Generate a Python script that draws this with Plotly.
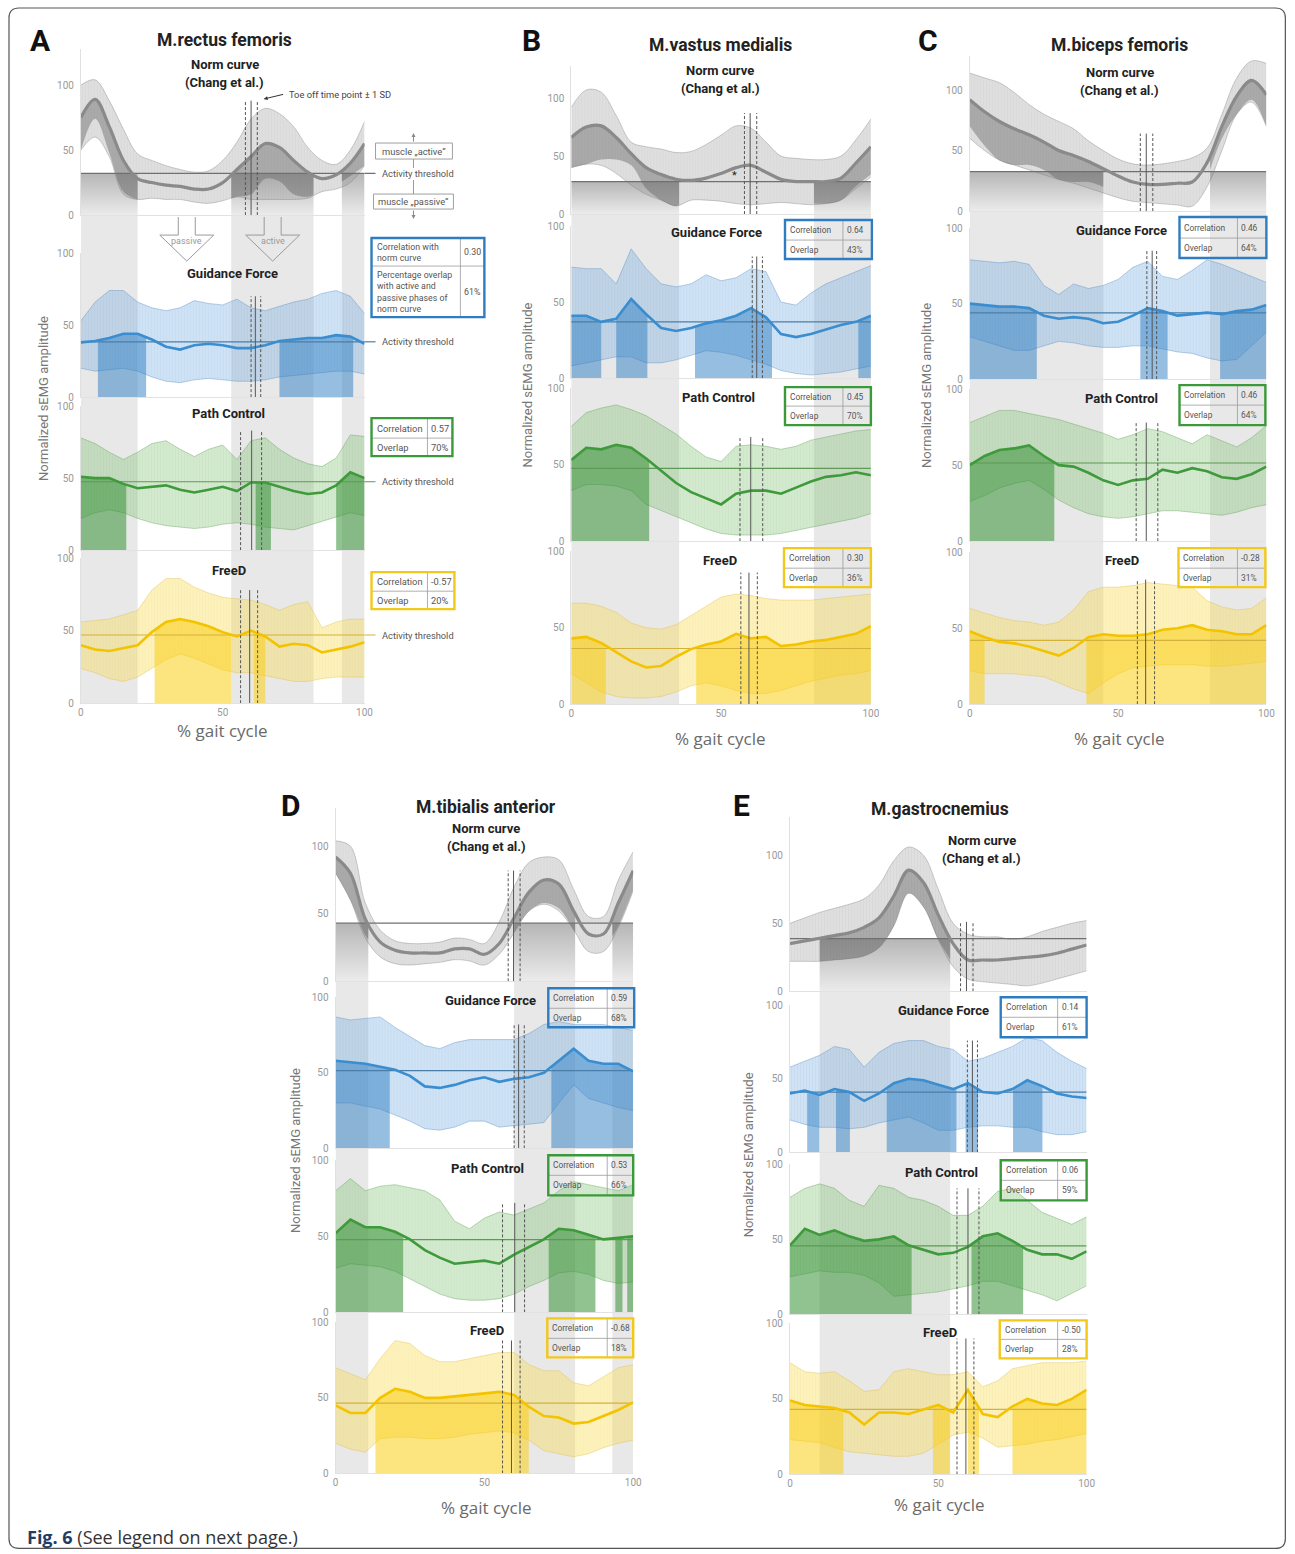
import numpy as np
import plotly.graph_objects as go

W, H = 1295, 1554
PCT = list(range(0, 101, 5))   # % gait cycle sampling grid

# ---------------- Panel A : M. rectus femoris ----------------
A_NORM_MEAN = [75, 89, 68, 42, 28, 25, 23, 22, 20, 20, 25, 35, 45, 55, 52, 42, 33, 28, 31, 40, 55]
A_NORM_UP   = [100, 104, 88, 66, 47, 42, 38, 35, 33, 34, 42, 56, 74, 82, 78, 68, 52, 42, 39, 50, 72]
A_NORM_LO   = [50, 60, 45, 16, 12, 13, 12, 12, 10, 9, 11, 14, 12, 12, 12, 12, 13, 18, 20, 25, 38]
A_GF_MEAN = [38, 39, 41, 44, 44, 40, 35, 33, 36, 37, 36, 34, 34, 36, 39, 40, 41, 41, 43, 42, 37]
A_GF_UP   = [53, 66, 74, 74, 66, 62, 60, 62, 67, 65, 64, 68, 62, 60, 63, 66, 68, 72, 74, 70, 58]
A_GF_LO   = [20, 18, 19, 20, 18, 14, 11, 10, 12, 13, 12, 11, 11, 12, 14, 15, 16, 17, 18, 18, 16]
A_PC_MEAN = [51, 50, 50, 46, 43, 44, 45, 42, 40, 42, 44, 41, 47, 47, 44, 41, 39, 40, 45, 54, 50]
A_PC_UP   = [78, 74, 68, 63, 68, 74, 76, 70, 65, 70, 73, 63, 76, 78, 70, 64, 60, 58, 64, 80, 79]
A_PC_LO   = [22, 26, 28, 26, 22, 19, 17, 16, 15, 16, 18, 19, 18, 16, 15, 14, 17, 20, 23, 26, 24]
A_FD_MEAN = [40, 37, 36, 38, 40, 49, 56, 58, 56, 53, 49, 46, 50, 46, 39, 41, 40, 35, 37, 39, 42]
A_FD_UP   = [56, 57, 58, 61, 64, 78, 86, 86, 80, 76, 73, 72, 71, 68, 64, 68, 70, 52, 56, 58, 58]
A_FD_LO   = [24, 21, 17, 15, 18, 24, 30, 34, 31, 27, 23, 21, 21, 19, 17, 15, 15, 17, 18, 18, 18]

# ---------------- Panel B : M. vastus medialis ----------------
B_NORM_MEAN = [66, 75, 76, 66, 52, 40, 34, 30, 29, 31, 35, 40, 42, 36, 30, 28, 28, 28, 31, 44, 58]
B_NORM_UP   = [92, 107, 105, 85, 62, 58, 56, 53, 54, 60, 68, 76, 74, 62, 50, 48, 47, 47, 50, 64, 82]
B_NORM_LO   = [40, 43, 42, 35, 25, 17, 12, 7, 12, 12, 11, 9, 8, 9, 10, 9, 8, 9, 12, 22, 32]
B_GF_MEAN = [41, 41, 37, 39, 52, 42, 33, 31, 33, 36, 38, 41, 46, 40, 29, 27, 29, 32, 35, 37, 41]
B_GF_UP   = [73, 72, 72, 62, 85, 72, 62, 60, 62, 68, 64, 66, 72, 70, 50, 48, 56, 62, 66, 70, 74]
B_GF_LO   = [8, 10, 12, 14, 14, 10, 10, 12, 15, 18, 17, 15, 12, 9, 5, 3, 2, 3, 4, 6, 8]
B_PC_MEAN = [53, 61, 60, 63, 61, 54, 46, 38, 32, 28, 24, 31, 33, 33, 31, 35, 39, 42, 43, 45, 43]
B_PC_UP   = [75, 84, 87, 89, 86, 82, 76, 70, 62, 55, 52, 62, 63, 62, 60, 62, 66, 68, 70, 72, 73]
B_PC_LO   = [33, 37, 37, 36, 33, 24, 20, 16, 12, 8, 5, 4, 4, 4, 5, 7, 9, 11, 13, 15, 18]
B_FD_MEAN = [43, 44, 40, 34, 28, 24, 25, 31, 36, 39, 41, 46, 43, 44, 38, 39, 41, 42, 44, 46, 51]
B_FD_UP   = [66, 66, 64, 60, 53, 50, 49, 52, 58, 64, 70, 72, 71, 69, 68, 68, 68, 69, 70, 71, 72]
B_FD_LO   = [20, 14, 8, 5, 4, 4, 5, 8, 12, 14, 12, 9, 7, 7, 9, 12, 15, 17, 19, 20, 22]

# ---------------- Panel C : M. biceps femoris ----------------
C_NORM_MEAN = [92, 82, 74, 68, 63, 57, 50, 46, 41, 35, 29, 24, 22, 22, 23, 24, 40, 70, 95, 108, 96]
C_NORM_UP   = [114, 110, 106, 98, 88, 80, 74, 68, 58, 50, 43, 39, 38, 39, 41, 44, 52, 80, 110, 124, 122]
C_NORM_LO   = [60, 50, 42, 38, 34, 30, 26, 23, 19, 15, 11, 8, 7, 6, 5, 4, 20, 50, 80, 90, 70]
C_GF_MEAN = [50, 49, 48, 48, 47, 42, 40, 41, 40, 37, 38, 42, 47, 45, 42, 43, 44, 43, 45, 46, 49]
C_GF_UP   = [79, 78, 77, 78, 76, 62, 56, 63, 60, 62, 66, 74, 78, 68, 66, 72, 79, 76, 72, 68, 64]
C_GF_LO   = [28, 25, 22, 19, 19, 22, 25, 24, 22, 21, 21, 22, 22, 20, 18, 17, 14, 12, 13, 22, 31]
C_PC_MEAN = [50, 56, 60, 61, 63, 56, 50, 49, 45, 40, 37, 40, 41, 47, 45, 48, 46, 42, 41, 44, 49]
C_PC_UP   = [78, 82, 86, 86, 84, 82, 80, 77, 74, 71, 67, 70, 74, 72, 68, 64, 70, 66, 62, 68, 76]
C_PC_LO   = [26, 30, 35, 38, 40, 34, 27, 22, 18, 16, 15, 16, 18, 20, 20, 19, 18, 17, 19, 22, 24]
C_FD_MEAN = [48, 44, 41, 40, 38, 35, 32, 37, 44, 46, 45, 45, 46, 49, 50, 52, 49, 48, 46, 46, 52]
C_FD_UP   = [63, 60, 57, 55, 54, 52, 54, 62, 74, 77, 77, 78, 80, 79, 78, 77, 68, 64, 62, 63, 70]
C_FD_LO   = [22, 20, 20, 20, 19, 18, 14, 10, 7, 14, 20, 24, 25, 26, 26, 26, 25, 25, 26, 27, 28]

# ---------------- Panel D : M. tibialis anterior ----------------
D_NORM_MEAN = [92, 80, 46, 29, 23, 21, 21, 21, 24, 24, 20, 28, 47, 66, 75, 72, 52, 35, 35, 58, 82]
D_NORM_UP   = [104, 100, 58, 38, 30, 28, 28, 29, 32, 31, 28, 44, 70, 88, 92, 90, 68, 48, 48, 75, 96]
D_NORM_LO   = [80, 60, 32, 18, 13, 12, 13, 14, 16, 15, 12, 20, 36, 52, 57, 52, 38, 22, 22, 40, 67]
D_GF_MEAN = [58, 57, 56, 54, 52, 48, 41, 40, 42, 45, 47, 44, 46, 47, 50, 58, 66, 58, 56, 56, 51]
D_GF_UP   = [87, 85, 86, 87, 80, 74, 68, 66, 70, 72, 72, 72, 72, 76, 82, 84, 82, 82, 82, 80, 78]
D_GF_LO   = [30, 30, 28, 26, 22, 18, 13, 12, 14, 18, 18, 14, 15, 16, 17, 30, 42, 33, 30, 27, 25]
D_PC_MEAN = [52, 61, 56, 56, 53, 48, 41, 36, 32, 33, 34, 32, 38, 43, 48, 55, 54, 51, 48, 49, 50]
D_PC_UP   = [80, 88, 80, 83, 84, 82, 80, 74, 60, 55, 62, 66, 64, 68, 72, 80, 86, 84, 82, 80, 84]
D_PC_LO   = [29, 32, 31, 30, 27, 22, 17, 12, 9, 8, 8, 9, 12, 17, 21, 26, 27, 25, 21, 19, 20]
D_FD_MEAN = [45, 40, 40, 50, 56, 54, 50, 50, 51, 52, 53, 54, 52, 44, 38, 37, 33, 34, 38, 42, 47]
D_FD_UP   = [70, 66, 62, 76, 88, 86, 78, 74, 74, 76, 78, 80, 80, 72, 68, 68, 60, 58, 64, 70, 72]
D_FD_LO   = [20, 16, 14, 23, 24, 24, 23, 23, 24, 26, 27, 28, 27, 22, 15, 13, 11, 13, 17, 20, 22]

# ---------------- Panel E : M. gastrocnemius ----------------
E_NORM_MEAN = [35, 37, 39, 41, 43, 47, 54, 70, 89, 80, 56, 35, 23, 23, 23, 24, 25, 26, 28, 31, 34]
E_NORM_UP   = [50, 54, 58, 61, 64, 68, 78, 96, 106, 100, 75, 50, 42, 40, 40, 38, 40, 44, 47, 50, 52]
E_NORM_LO   = [22, 22, 22, 23, 24, 26, 32, 48, 72, 62, 38, 18, 9, 7, 6, 5, 4, 6, 9, 12, 15]
E_GF_MEAN = [40, 42, 39, 43, 41, 35, 40, 47, 50, 49, 46, 43, 47, 41, 40, 43, 49, 45, 40, 38, 37]
E_GF_UP   = [58, 62, 66, 72, 70, 58, 68, 74, 76, 76, 72, 70, 62, 64, 68, 72, 78, 76, 68, 62, 57]
E_GF_LO   = [22, 19, 17, 17, 16, 17, 20, 22, 24, 20, 15, 15, 17, 18, 18, 17, 17, 14, 12, 12, 14]
E_PC_MEAN = [46, 57, 53, 56, 52, 49, 50, 52, 46, 43, 40, 41, 45, 52, 54, 49, 43, 40, 40, 37, 42]
E_PC_UP   = [78, 84, 87, 84, 76, 72, 86, 84, 78, 76, 72, 66, 66, 72, 82, 84, 76, 68, 64, 60, 65]
E_PC_LO   = [25, 27, 29, 28, 28, 26, 21, 12, 13, 14, 15, 17, 19, 22, 22, 19, 16, 13, 9, 14, 19]
E_FD_MEAN = [49, 46, 45, 44, 41, 33, 41, 41, 40, 43, 46, 41, 56, 40, 38, 45, 50, 47, 46, 50, 56]
E_FD_UP   = [74, 68, 67, 68, 62, 55, 56, 68, 70, 68, 66, 66, 68, 58, 62, 70, 72, 74, 74, 74, 75]
E_FD_LO   = [23, 22, 21, 18, 15, 14, 13, 12, 12, 14, 20, 26, 28, 24, 18, 19, 20, 22, 23, 25, 27]

PANELS = ['A', 'B', 'C', 'D', 'E']
ROWS = ['norm', 'gf', 'pc', 'fd']
MUSCLE = {'A': 'M.rectus femoris', 'B': 'M.vastus medialis', 'C': 'M.biceps femoris',
          'D': 'M.tibialis anterior', 'E': 'M.gastrocnemius'}
ROW_TITLE = {'gf': 'Guidance Force', 'pc': 'Path Control', 'fd': 'FreeD'}

# activity thresholds per row (norm, guidance force, path control, FreeD)
THRESHOLD = {'A': [32, 38.4, 47.5, 47], 'B': [28, 37, 47.6, 36.4], 'C': [32.5, 43.8, 51.4, 42],
             'D': [43, 51.5, 47.8, 46.6], 'E': [38.7, 41, 45.7, 43]}
# active phases of the norm curve (% gait cycle)
NORM_ACTIVE = {'A': [(0, 20), (53, 82), (92, 100)], 'B': [(0, 36), (81, 100)], 'C': [(0, 45), (81, 100)],
               'D': [(0, 11), (60, 80.5), (93, 100)], 'E': [(10, 54)]}
# active phases of each training condition
ACTIVE = {
    'A': {'gf': [(6, 23), (70, 96)], 'pc': [(0, 16), (61.6, 67), (90, 100)], 'fd': [(26, 53), (61, 65)]},
    'B': {'gf': [(0, 10), (15, 25.4), (41.3, 67), (95.8, 100)], 'pc': [(0, 26)], 'fd': [(0, 11.5), (41.7, 100)]},
    'C': {'gf': [(0, 22.6), (57.5, 66.7), (84.4, 100)], 'pc': [(0, 28.5)], 'fd': [(0, 5), (39.3, 100)]},
    'D': {'gf': [(0, 18.2), (72.5, 100)], 'pc': [(0, 22.7), (71.6, 87.3), (94, 96.4), (98, 100)], 'fd': [(13.4, 64.9)]},
    'E': {'gf': [(5.8, 9.9), (15.5, 20.2), (32.6, 56.1), (59.2, 63.4), (75.2, 85.1)],
          'pc': [(0, 41), (61.2, 78.6)], 'fd': [(0, 18), (48.2, 53.9), (60, 63.7), (75, 100)]},
}
# toe-off time point: (mean, -1 SD, +1 SD, line height)
TOE = {
    'A': [(60, 58, 62.2, 88), (61.5, 60, 63.4, 70), (60.2, 56.3, 63.7, 83), (59.5, 56.3, 62.3, 78)],
    'B': [(59.7, 57.8, 61.9, 87), (61.9, 60.4, 63.8, 80), (59.9, 56.3, 63.9, 68), (59.3, 56.6, 62.1, 86)],
    'C': [(59.5, 57.5, 61.7, 64), (61.5, 59.7, 63, 85), (59.5, 56.1, 63.4, 78), (59.3, 56.5, 62.3, 82)],
    'D': [(59.8, 58, 62, 82), (61.5, 60, 63.4, 82), (60.2, 56.1, 63.5, 72), (59.1, 56.1, 62, 88)],
    'E': [(59.5, 57.5, 61.7, 51), (61.5, 59.8, 63.2, 76), (60, 56.3, 63.7, 84), (59.3, 56.3, 62, 90)],
}
# correlation with norm curve / overlap with active+passive phases
STATS = {
    'A': [('0.30', '61%'), ('0.57', '70%'), ('-0.57', '20%')],
    'B': [('0.64', '43%'), ('0.45', '70%'), ('0.30', '36%')],
    'C': [('0.46', '64%'), ('0.46', '64%'), ('-0.28', '31%')],
    'D': [('0.59', '68%'), ('0.53', '66%'), ('-0.68', '18%')],
    'E': [('0.14', '61%'), ('0.06', '59%'), ('-0.50', '28%')],
}

SERIES = {p: {r: (globals()[f'{p}_{r.upper()}_MEAN'], globals()[f'{p}_{r.upper()}_UP'],
                  globals()[f'{p}_{r.upper()}_LO']) for r in ROWS} for p in PANELS}

# ---------------- layout geometry (pixels of the target picture) ----------------
GEOM = {
    'A': dict(x0=80, x100=364, rows=[(215, 85), (397, 253), (550, 406), (703, 558)]),
    'B': dict(x0=571, x100=871, rows=[(214, 98), (378, 226), (541, 388), (704, 551)]),
    'C': dict(x0=970, x100=1267, rows=[(211, 90), (379, 228), (541, 389), (704, 552)]),
    'D': dict(x0=335, x100=633, rows=[(981, 846), (1148, 997), (1312, 1160), (1473, 1322)]),
    'E': dict(x0=790, x100=1087, rows=[(991, 855), (1152, 1005), (1314, 1164), (1474, 1323)]),
}
BOX = {  # left, top, right, bottom, column divider, row divider
    'A': [(371, 238, 484, 317, 460, 266), (371, 418, 452, 456, 427, 438), (371, 572, 454, 609, 427, 591)],
    'B': [(785, 220, 872, 259, 843, 240), (785, 387, 871, 425, 843, 406), (784, 548, 871, 587, 843, 568)],
    'C': [(1180, 217, 1267, 258, 1238, 238), (1180, 385, 1266, 425, 1238, 405), (1179, 548, 1266, 587, 1238, 568)],
    'D': [(548, 988, 634, 1027, 607, 1008), (548, 1155, 633, 1195, 607, 1175), (547, 1318, 633, 1357, 607, 1338)],
    'E': [(1001, 997, 1087, 1037, 1058, 1017), (1001, 1160, 1087, 1200, 1058, 1180), (1000, 1320, 1087, 1358, 1058, 1339)],
}
TEXT_POS = {
    'A': dict(letter=(40, 40), title=(224, 40), norm=(224, 64), gf=(232, 273), pc=(228, 413), fd=(228, 570), ytitle=(42, 398), xtitle=(222, 730)),
    'B': dict(letter=(531, 40), title=(720, 45), norm=(720, 70), gf=(716, 232), pc=(718, 397), fd=(720, 560), ytitle=(527, 385), xtitle=(720, 738)),
    'C': dict(letter=(928, 40), title=(1120, 45), norm=(1120, 72), gf=(1122, 230), pc=(1122, 398), fd=(1122, 560), ytitle=(926, 385), xtitle=(1120, 738)),
    'D': dict(letter=(290, 805), title=(486, 807), norm=(486, 828), gf=(490, 1000), pc=(487, 1168), fd=(487, 1330), ytitle=(295, 1150), xtitle=(486, 1507)),
    'E': dict(letter=(741, 805), title=(940, 809), norm=(982, 840), gf=(944, 1010), pc=(942, 1172), fd=(940, 1332), ytitle=(748, 1155), xtitle=(940, 1504)),
}

STYLE = {
    'norm': dict(band='rgba(150,150,150,0.30)', edge='rgba(120,120,120,0.45)', dark='rgba(90,90,90,0.40)', line='#8a8a8a', thr='#707070', box='#777'),
    'gf': dict(band='rgba(110,170,225,0.33)', edge='rgba(70,130,190,0.45)', dark='rgba(45,125,195,0.50)', line='#3a8dcf', thr='#4a7ea8', box='#2f7dc0'),
    'pc': dict(band='rgba(125,190,110,0.33)', edge='rgba(80,150,70,0.45)', dark='rgba(55,145,55,0.55)', line='#3e9a3b', thr='#5d9a55', box='#3a9a3a'),
    'fd': dict(band='rgba(250,218,80,0.38)', edge='rgba(220,185,60,0.45)', dark='rgba(250,205,20,0.55)', line='#f4c300', thr='#d4b13a', box='#f2c81a'),
}
FONT = 'Roboto'
COLUMN_GREY = '#e8e8e8'

# the page is photographed slightly shrunk; map target-picture pixels onto figure pixels
SCALE, OFF_X, OFF_Y = 0.992, 2.0, 6.0


def pxx(px):
    return ((px - OFF_X) / SCALE) / W


def pxy(py):
    return 1 - ((py - OFF_Y) / SCALE) / H


def seg(arr, a, b):
    xs = [a] + [x for x in PCT if a < x < b] + [b]
    return xs, list(np.interp(xs, PCT, arr))


fig = go.Figure()
layout_axes = {}
shapes = []
annotations = []


def txt(x, y, s, size, color='#222', bold=False, xanchor='center', yanchor='middle', angle=0, family=FONT, align='center'):
    annotations.append(dict(x=pxx(x), y=pxy(y), xref='paper', yref='paper',
                            text=f'<b>{s}</b>' if bold else s, showarrow=False, align=align,
                            font=dict(size=size, color=color, family=family),
                            xanchor=xanchor, yanchor=yanchor, textangle=angle))


def pline(x0, y0, x1, y1, color, width=1, dash='solid'):
    shapes.append(dict(type='line', xref='paper', yref='paper', x0=pxx(x0), y0=pxy(y0), x1=pxx(x1), y1=pxy(y1),
                       line=dict(color=color, width=width, dash=dash)))


k = 0
for p in PANELS:
    g = GEOM[p]
    axid = {}
    for ri, row in enumerate(ROWS):
        k += 1
        axid[row] = k
        sx = '' if k == 1 else str(k)
        xr, yr = 'x' + sx, 'y' + sx
        p0, p100 = g['rows'][ri]
        hi = 128 if row == 'norm' else 100
        ptop = p0 - (p0 - p100) * hi / 100
        layout_axes['xaxis' + sx] = dict(domain=[pxx(g['x0']), pxx(g['x100'])], range=[0, 100], anchor=yr,
                                         showgrid=False, zeroline=False, showline=True, linecolor='#e2e2e2',
                                         tickvals=[0, 50, 100], ticks='', showticklabels=(row == 'fd'),
                                         tickfont=dict(size=10, color='#999', family=FONT), fixedrange=True)
        layout_axes['yaxis' + sx] = dict(domain=[pxy(p0), pxy(ptop)], range=[0, hi], anchor=xr,
                                         showgrid=False, zeroline=False, showline=True, linecolor='#e0e0e0',
                                         tickvals=[0, 50, 100], ticks='', ticklabelstandoff=4,
                                         tickfont=dict(size=10, color='#999', family=FONT), fixedrange=True)
        mean, up, lo = SERIES[p][row]
        st = STYLE[row]
        thr = THRESHOLD[p][ri]
        shp = 'spline' if row == 'norm' else 'linear'
        common = dict(xaxis=xr, yaxis=yr, hoverinfo='skip', showlegend=False)

        if row == 'norm':
            for a, b in NORM_ACTIVE[p]:
                fig.add_trace(go.Scatter(x=[a, b, b, a, a], y=[0, 0, thr, thr, 0], mode='lines', fill='toself',
                                         line=dict(width=0), fillgradient=dict(type='vertical',
                                         colorscale=[[0, '#ebebeb'], [1, '#b6b6b6']]), **common))
        # SD band (with fine vertical hatching)
        fig.add_trace(go.Scatter(x=PCT, y=lo, mode='lines', line=dict(width=0.8, color=st['edge'], shape=shp), **common))
        fig.add_trace(go.Scatter(x=PCT, y=up, mode='lines', fill='tonexty', fillcolor=st['band'],
                                 fillpattern=dict(shape='|', size=3, solidity=0.25, fgcolor=st['edge'],
                                                  fgopacity=0.18, bgcolor=st['band']),
                                 line=dict(width=0.8, color=st['edge'], shape=shp), **common))
        if row == 'norm':
            inner = [max(2 * m - u, l) for m, u, l in zip(mean, up, lo)]
            for a, b in NORM_ACTIVE[p]:
                xs, yb = seg(inner, a, b)
                _, yt = seg(mean, a, b)
                fig.add_trace(go.Scatter(x=xs, y=yb, mode='lines', line=dict(width=0, shape=shp), **common))
                fig.add_trace(go.Scatter(x=xs, y=yt, mode='lines', fill='tonexty', fillcolor=st['dark'],
                                         line=dict(width=0, shape=shp), **common))
        else:
            for a, b in ACTIVE[p][row]:
                xs, yt = seg(mean, a, b)
                fig.add_trace(go.Scatter(x=xs, y=yt, mode='lines', fill='tozeroy', fillcolor=st['dark'],
                                         line=dict(width=0), **common))
        # threshold
        fig.add_trace(go.Scatter(x=[0, 100], y=[thr, thr], mode='lines', line=dict(width=1.2, color=st['thr']), **common))
        # mean curve
        fig.add_trace(go.Scatter(x=PCT, y=mean, mode='lines', line=dict(width=3.2 if row == 'norm' else 2.6,
                                 color=st['line'], shape=shp), **common))
        # toe-off lines
        t, tl, th, top = TOE[p][ri]
        fig.add_trace(go.Scatter(x=[t, t], y=[0, top], mode='lines', line=dict(width=1, color='#555'), **common))
        for tt in (tl, th):
            fig.add_trace(go.Scatter(x=[tt, tt], y=[0, top], mode='lines',
                                     line=dict(width=1, color='#555', dash='3px,2px'), **common))
        if p == 'A':
            shapes.append(dict(type='line', xref='paper', yref=yr, x0=pxx(g['x100']), x1=pxx(375), y0=thr, y1=thr,
                               line=dict(width=1.2, color=st['thr'])))
            annotations.append(dict(x=pxx(379), y=thr, xref='paper', yref=yr, text='Activity threshold',
                                    showarrow=False, xanchor='left', yanchor='middle',
                                    font=dict(size=9.3, color='#555', family=FONT)))

    # grey columns (active phases of the norm curve) running through the whole panel
    fdk = axid['fd']
    for a, b in NORM_ACTIVE[p]:
        shapes.append(dict(type='rect', xref=f'x{fdk}', yref='paper', x0=a, x1=b,
                           y0=pxy(g['rows'][3][0]), y1=pxy(g['rows'][0][0]),
                           fillcolor=COLUMN_GREY, line=dict(width=0), layer='below'))

    # texts
    tp = TEXT_POS[p]
    txt(*tp['letter'], p, 30, '#111', bold=True)
    txt(*tp['title'], MUSCLE[p], 17.5, '#222', bold=True)
    txt(tp['norm'][0], tp['norm'][1], 'Norm curve', 13, '#222', bold=True)
    txt(tp['norm'][0], tp['norm'][1] + 18, '(Chang et al.)', 13, '#222', bold=True)
    for r in ['gf', 'pc', 'fd']:
        txt(*tp[r], ROW_TITLE[r], 13, '#222', bold=True)
    txt(*tp['ytitle'], 'Normalized sEMG amplitude', 13, '#777', angle=-90)
    txt(*tp['xtitle'], '% gait cycle', 17, '#6a6a6a', family='Open Sans')

    # statistics boxes
    for bi, r in enumerate(['gf', 'pc', 'fd']):
        l, t_, rr, b_, cd, rd = BOX[p][bi]
        col = STYLE[r]['box']
        pline(cd, t_, cd, b_, '#9a9a9a', 0.8)
        pline(l, rd, rr, rd, '#9a9a9a', 0.8)
        shapes.append(dict(type='rect', xref='paper', yref='paper', x0=pxx(l), x1=pxx(rr), y0=pxy(b_), y1=pxy(t_),
                           line=dict(color=col, width=2.4), fillcolor='rgba(255,255,255,0)'))
        corr, ov = STATS[p][bi]
        fs = 9.3 if p == 'A' else 8.4
        if p == 'A' and bi == 0:
            lab1 = 'Correlation with<br>norm curve'
            lab2 = 'Percentage overlap<br>with active and<br>passive phases of<br>norm curve'
            fs = 8.8
        else:
            lab1, lab2 = 'Correlation', 'Overlap'
        txt(l + 3, (t_ + rd) / 2, lab1, fs, '#555', xanchor='left', align='left')
        txt(l + 3, (rd + b_) / 2, lab2, fs, '#555', xanchor='left', align='left')
        txt(cd + 2, (t_ + rd) / 2, corr, fs, '#555', xanchor='left')
        txt(cd + 2, (rd + b_) / 2, ov, fs, '#555', xanchor='left')

# ---- extra explanatory graphics in panel A ----
for (l, t_, rr, b_, s) in [(375, 143, 452, 159, 'muscle \u201eactive\u201c'), (373, 194, 453, 209, 'muscle \u201epassive\u201c')]:
    shapes.append(dict(type='rect', xref='paper', yref='paper', x0=pxx(l), x1=pxx(rr), y0=pxy(b_), y1=pxy(t_),
                       line=dict(color='#a0a0a0', width=1)))
    txt((l + rr) / 2, (t_ + b_) / 2, s, 9.3, '#555')
pline(413, 159, 413, 168, '#999', 1)
pline(413, 180, 413, 194, '#999', 1)
for tip, dy in [((413, 133), 10), ((413, 219), -10)]:
    annotations.append(dict(x=pxx(tip[0]), y=pxy(tip[1]), xref='paper', yref='paper', text='', showarrow=True,
                            ax=0, ay=dy, arrowhead=2, arrowsize=0.8, arrowwidth=1, arrowcolor='#888'))
txt(286, 94, 'Toe off time point \u00b1 1 SD', 9.3, '#444', xanchor='left')
annotations.append(dict(x=pxx(263), y=pxy(99), xref='paper', yref='paper', text='', showarrow=True,
                        ax=21, ay=-5, arrowhead=2, arrowsize=0.8, arrowwidth=1, arrowcolor='#333'))
for cx, lab in [(186, 'passive'), (272, 'active')]:
    pts = [(cx - 8.5, 217), (cx - 8.5, 235), (cx - 27, 235), (cx, 261), (cx + 27, 235), (cx + 8.5, 235), (cx + 8.5, 217)]
    path = 'M ' + ' L '.join(f'{pxx(x):.5f},{pxy(y):.5f}' for x, y in pts)
    shapes.append(dict(type='path', xref='paper', yref='paper', path=path, line=dict(color='#9a9a9a', width=1)))
    txt(cx, 241, lab, 9, '#9a9a9a')
annotations.append(dict(x=54.5, y=33, xref='x5', yref='y5', text='*', showarrow=False,
                        font=dict(size=11, color='#222', family=FONT)))

# outer rounded frame (kept inside the drawable page)
x0, y0, x1, y1, r = 8, 8, 1286, 1548, 10
P = lambda x, y: f'{pxx(x):.5f},{pxy(y):.5f}'
frame = (f'M {P(x0 + r, y0)} L {P(x1 - r, y0)} Q {P(x1, y0)} {P(x1, y0 + r)} L {P(x1, y1 - r)} '
         f'Q {P(x1, y1)} {P(x1 - r, y1)} L {P(x0 + r, y1)} Q {P(x0, y1)} {P(x0, y1 - r)} '
         f'L {P(x0, y0 + r)} Q {P(x0, y0)} {P(x0 + r, y0)} Z')
shapes.append(dict(type='path', xref='paper', yref='paper', path=frame, line=dict(color='#555', width=1.2)))

annotations.append(dict(x=pxx(24), y=pxy(1537), xref='paper', yref='paper', showarrow=False,
                        xanchor='left', yanchor='middle',
                        text='<b><span style="color:#1f3e66">Fig. 6</span></b> (See legend on next page.)',
                        font=dict(size=18, color='#333', family='Open Sans')))

fig.update_layout(width=W, height=H, margin=dict(l=0, r=0, t=0, b=0),
                  paper_bgcolor='white', plot_bgcolor='rgba(0,0,0,0)', showlegend=False,
                  shapes=shapes, annotations=annotations, **layout_axes)
fig.write_html('out.html', config={'displayModeBar': False},
               post_script="document.body.style.margin='0px';document.body.style.overflow='hidden';")
